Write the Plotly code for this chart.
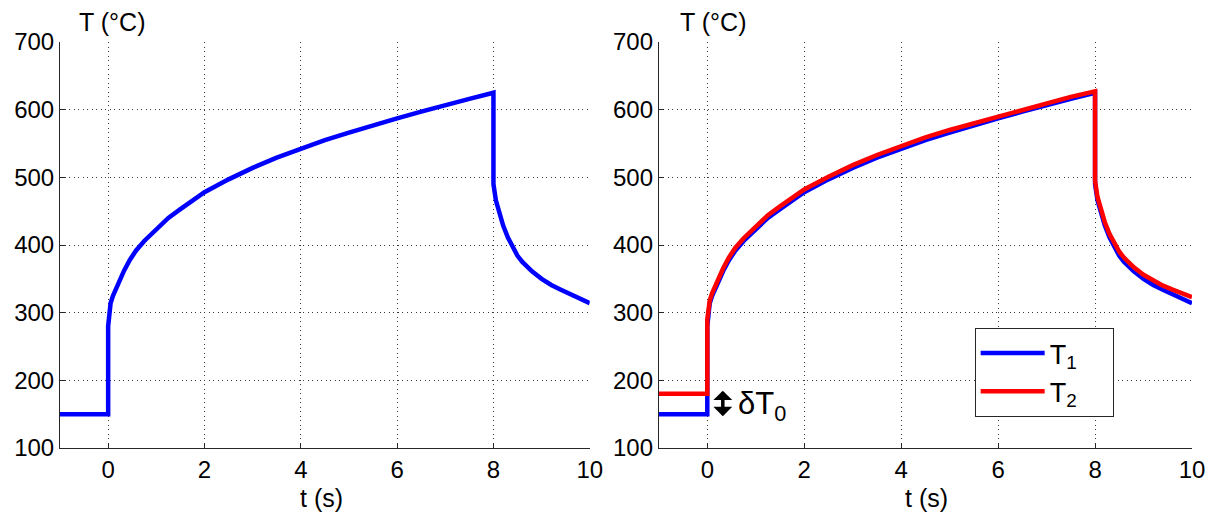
import plotly.graph_objects as go

# Time samples (s)
t_vals = [-1, 0, 0, 0.02, 0.05, 0.1, 0.17, 0.25, 0.33, 0.45, 0.58, 0.75, 1.0, 1.25,
          1.5, 1.75, 2.0, 2.5, 3.0, 3.5, 4.0, 4.5, 5.0, 5.5, 6.0, 6.5, 7.0, 7.5,
          8.0, 8.0, 8.05, 8.1, 8.2, 8.3, 8.4, 8.5, 8.6, 8.8, 9.0, 9.2, 9.4, 9.6,
          9.8, 10]
# Temperature T1 (°C)
T1_vals = [150, 150, 280, 300, 314, 325, 337, 350, 362, 378, 392, 406, 423, 440,
           453, 466, 478, 497, 514, 529, 542, 555, 566, 577, 587, 597, 607, 616,
           625, 490, 466, 453, 429, 411, 396, 384, 375, 361, 350, 341, 334, 327,
           320, 314]
# Temperature T2 (°C)
T2_vals = [180, 180, 290, 305, 318, 329, 341, 354, 366, 382, 396, 410, 427, 444,
           457, 470, 482, 501, 518, 533, 546, 559, 570, 580, 590, 600, 610, 619,
           627, 495, 471, 458, 434, 416, 402, 390, 381, 367, 356, 348, 340, 334,
           328, 323]

x_ticks = [0, 2, 4, 6, 8, 10]
y_ticks = [100, 200, 300, 400, 500, 600, 700]

FONT = "Arial, Liberation Sans, sans-serif"
BLUE = "#0000FF"
RED = "#FF0000"
AX = "#262626"
NB = "&nbsp;" * 4

fig = go.Figure()
fig.add_trace(go.Scatter(x=t_vals, y=T1_vals, mode="lines", line=dict(color=BLUE, width=4.5),
                         xaxis="x", yaxis="y", showlegend=False))
fig.add_trace(go.Scatter(x=t_vals, y=T1_vals, mode="lines", line=dict(color=BLUE, width=4.5),
                         xaxis="x2", yaxis="y2", name="T<sub>1</sub>" + NB))
fig.add_trace(go.Scatter(x=t_vals, y=T2_vals, mode="lines", line=dict(color=RED, width=4.5),
                         xaxis="x2", yaxis="y2", name="T<sub>2</sub>" + NB))

axis_common = dict(
    showgrid=True, gridcolor="#3a3a3a", griddash="1px,3.5px", gridwidth=1,
    showline=True, linecolor=AX, linewidth=1, mirror=False,
    ticks="inside", ticklen=5, tickcolor=AX, zeroline=False,
    tickfont=dict(family=FONT, size=24, color="black"),
)
fig.update_layout(
    width=1216, height=513,
    margin=dict(l=60, r=24, t=42, b=65),
    paper_bgcolor="white", plot_bgcolor="white",
    font=dict(family=FONT, size=24, color="black"),
    xaxis=dict(domain=[0, 0.468], range=[-1, 10], tickvals=x_ticks, anchor="y", **axis_common),
    yaxis=dict(domain=[0, 1], range=[100, 700], tickvals=y_ticks, anchor="x", **axis_common),
    xaxis2=dict(domain=[0.529, 1], range=[-1, 10], tickvals=x_ticks, anchor="y2", **axis_common),
    yaxis2=dict(domain=[0, 1], range=[100, 700], tickvals=y_ticks, anchor="x2", **axis_common),
    legend=dict(x=0.808, y=0.2956, xanchor="left", yanchor="top",
                bgcolor="white", bordercolor=AX, borderwidth=1,
                font=dict(family=FONT, size=27, color="black"),
                itemwidth=64, tracegroupgap=0),
)

ann = []
for xc in [0.0456, 0.577]:
    ann.append(dict(text="T (°C)", xref="paper", yref="paper", x=xc, y=1, yanchor="bottom",
                    xanchor="center", yshift=4, showarrow=False,
                    font=dict(family=FONT, size=25, color="black")))
for xc in [0.231, 0.7655]:
    ann.append(dict(text="t (s)", xref="paper", yref="paper", x=xc, y=0, yanchor="top",
                    xanchor="center", yshift=-34, showarrow=False,
                    font=dict(family=FONT, size=25, color="black")))
# delta T0 double arrow
ann.append(dict(x=0.32, y=147, ax=0.32, ay=187, xref="x2", yref="y2", axref="x2", ayref="y2",
                text="", showarrow=True, arrowhead=1, arrowside="end+start",
                arrowwidth=3.5, arrowsize=0.9, arrowcolor="black"))
ann.append(dict(x=0.6, y=162, xref="x2", yref="y2", xanchor="left", yanchor="middle",
                text="δT<sub>0</sub>", showarrow=False,
                font=dict(family=FONT, size=31, color="black")))
fig.update_layout(annotations=ann)

fig.write_html("out.html", config={"displayModeBar": False},
               post_script="document.body.style.margin='0';document.body.style.padding='0';")
